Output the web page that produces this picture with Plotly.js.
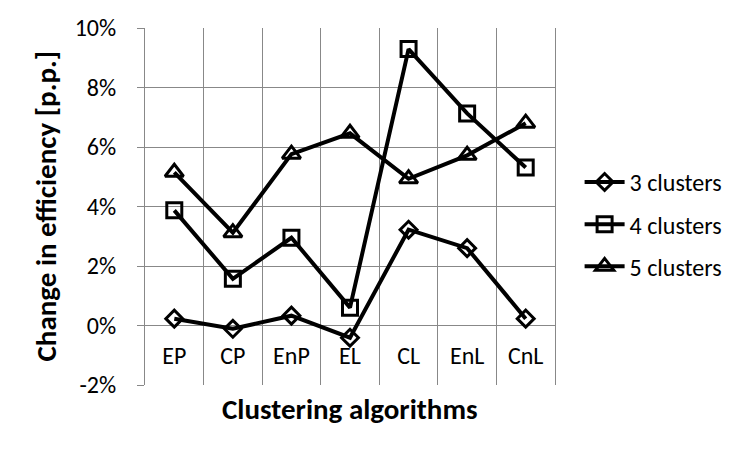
<!DOCTYPE html>
<html>
<head>
<meta charset="utf-8">
<script src="https://cdn.plot.ly/plotly-3.0.1.min.js"></script>
<style>html,body{margin:0;padding:0;background:#fff;}#chart{width:750px;height:450px;}</style>
</head>
<body>
<div id="chart"></div>
<script>
const categories = ["EP", "CP", "EnP", "EL", "CL", "EnL", "CnL"];
const seriesNames = ["3 clusters", "4 clusters", "5 clusters"];
const clusters3 = [0.0023, -0.0011, 0.0033, -0.0041, 0.0322, 0.0260, 0.0023];
const clusters4 = [0.0387, 0.0157, 0.0295, 0.0060, 0.0929, 0.0713, 0.0531];
const clusters5 = [0.0515, 0.0312, 0.0576, 0.0646, 0.0493, 0.0572, 0.0680];
const yTickValues = [-0.02, 0, 0.02, 0.04, 0.06, 0.08, 0.10];
const yTickLabels = ["-2%", "0%", "2%", "4%", "6%", "8%", "10%"];

const FONT = "Carlito, Lato, sans-serif";
const symbols = ["diamond-open", "square-open", "triangle-up-open"];
const sizes = [13, 15, 16];
const allSeries = [clusters3, clusters4, clusters5];

const traces = allSeries.map((vals, i) => ({
  x: categories,
  y: vals,
  name: seriesNames[i],
  type: "scatter",
  mode: "lines+markers",
  legendgroup: "g" + i,
  line: {color: "#000", width: 4},
  marker: {symbol: symbols[i], size: sizes[i], color: "#000", line: {color: "#000", width: 3}}
}));

const layout = {
  width: 750, height: 450,
  margin: {l: 145, r: 195, t: 28, b: 65},
  paper_bgcolor: "#fff", plot_bgcolor: "#fff",
  font: {family: FONT, color: "#000", size: 24},
  showlegend: true,
  legend: {x: 1.06, y: 0.45, xanchor: "left", yanchor: "middle",
           font: {family: FONT, size: 24, color: "#000"},
           traceorder: "grouped", tracegroupgap: 8, itemwidth: 40,
           bgcolor: "rgba(0,0,0,0)"},
  xaxis: {
    type: "category",
    range: [-0.5, categories.length - 0.5],
    anchor: "free", position: 1/6,
    tickson: "boundaries",
    ticks: "", showgrid: true, gridcolor: "#888", gridwidth: 1,
    showline: false, zeroline: false,
    tickfont: {family: FONT, size: 24, color: "#000"},
    ticklabelstandoff: 13,
    fixedrange: true
  },
  yaxis: {
    range: [-0.02, 0.10],
    tickvals: yTickValues,
    ticktext: yTickLabels,
    ticks: "outside", ticklen: 7, tickcolor: "#888",
    showline: true, linecolor: "#888", mirror: true,
    showgrid: true, gridcolor: "#888", gridwidth: 1,
    zeroline: true, zerolinecolor: "#888", zerolinewidth: 1,
    tickfont: {family: FONT, size: 24, color: "#000"},
    ticklabelstandoff: 16,
    fixedrange: true
  },
  annotations: [{
    text: "<b>Clustering algorithms</b>", xref: "paper", yref: "paper",
    x: 0.5, y: 0, yshift: -4, yanchor: "top", showarrow: false,
    font: {family: FONT, size: 29, color: "#000"}
  }, {
    text: "<b>Change in efficiency [p.p.]</b>", xref: "paper", yref: "paper",
    x: 0, xshift: -100, y: 0.5, xanchor: "center", yanchor: "middle", textangle: -90,
    showarrow: false,
    font: {family: FONT, size: 29, color: "#000"}
  }]
};

Plotly.newPlot("chart", traces, layout, {displayModeBar: false, staticPlot: true});
</script>
</body>
</html>
